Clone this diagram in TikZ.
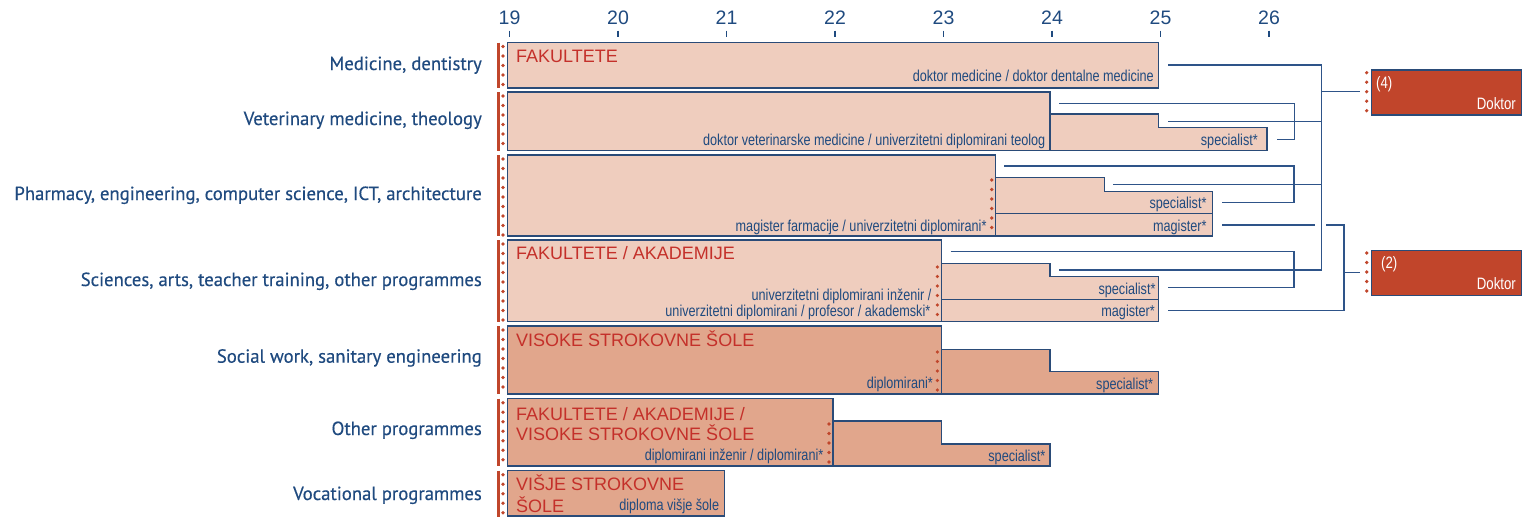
\documentclass[tikz,border=0pt]{standalone}
\usepackage{fontspec}
\setmainfont{Liberation Sans}
\newfontfamily\narrowf[FakeStretch=0.8]{Liberation Sans}
\newfontfamily\labf[FakeStretch=0.985,FakeBold=0.4]{PT Sans}
\definecolor{navy}{HTML}{1F4A7F}
\definecolor{boxline}{HTML}{2A4B78}
\definecolor{lightfill}{HTML}{EFCDBE}
\definecolor{darkfill}{HTML}{E1A68C}
\definecolor{redtext}{HTML}{C4302A}
\definecolor{redbar}{HTML}{C0462B}
\definecolor{doktorfill}{HTML}{C1452B}
\definecolor{conn}{HTML}{2E5489}
\tikzset{
  lbox/.style={draw=boxline, line width=1.3pt, fill=lightfill},
  dbox/.style={draw=boxline, line width=1.3pt, fill=darkfill},
  redbarline/.style={draw=redbar, line width=3pt},
  reddots/.style={draw=redbar, line width=3.6pt, line cap=round, dash pattern=on 0pt off 9.5pt},
  rowlabel/.style={anchor=base east, inner sep=0pt, text=navy, font=\labf\fontsize{19}{22}\selectfont},
  titletext/.style={anchor=base west, inner sep=0pt, text=redtext, font=\fontsize{18}{20}\selectfont},
  degree/.style={anchor=base east, inner sep=0pt, text=navy, font=\narrowf\fontsize{15.8}{17}\selectfont},
  yearlbl/.style={anchor=base, inner sep=0pt, text=navy, font=\fontsize{19.5}{20}\selectfont},
  ticklin/.style={draw=navy, line width=1.2pt},
  connector/.style={draw=conn, line width=1.3pt},
  doktorbox/.style={draw=boxline, line width=1.3pt, fill=doktorfill, anchor=north west, inner sep=0pt, minimum width=149.7pt, minimum height=45pt},
  doktortext/.style={text=white, inner sep=0pt, font=\narrowf\fontsize{16.5}{17}\selectfont}
}
\begin{document}
\begin{tikzpicture}[x=1pt,y=-1pt]
\useasboundingbox (0,0) rectangle (1527,517);

% ---- axis ----
\foreach \yy/\xx in {19/509.5,20/618,21/726.5,22/835,23/943.5,24/1052,25/1160.5,26/1269}{
  \draw[ticklin] (\xx,30.5) -- (\xx,37);
  \node[yearlbl] (yr\yy) at (\xx,24) {\yy};
}

% ---- row labels ----
\node[rowlabel] (l1) at (482,70) {Medicine, dentistry};
\node[rowlabel] (l2) at (482,125) {Veterinary medicine, theology};
\node[rowlabel] (l3) at (482,200) {Pharmacy, engineering, computer science, ICT, architecture};
\node[rowlabel] (l4) at (482,286) {Sciences, arts, teacher training, other programmes};
\node[rowlabel] (l5) at (482,362.7) {Social work, sanitary engineering};
\node[rowlabel] (l6) at (482,435) {Other programmes};
\node[rowlabel] (l7) at (482,500) {Vocational programmes};

% ---- left red bars and dots ----
\foreach \ta/\tb in {42.5/87.5, 92/150.7, 155/236, 240/321.7, 326/394, 398.7/466, 470.7/517}{
  \draw[redbarline] (498,\ta) -- (498,\tb);
  \draw[reddots] (503,\ta+4) -- (503,\tb);
}

% ---- row 1 ----
\draw[lbox] (507.5,42.5) rectangle (1158.5,88);
\node[titletext] (t1) at (516,62) {FAKULTETE};
\node[degree] (g1) at (1154,81.7) {doktor medicine / doktor dentalne medicine};

% ---- row 2 ----
\draw[lbox] (507.5,92) rectangle (1050,150.7);
\draw[lbox] (1050,114) -- (1158.5,114) -- (1158.5,127.7) -- (1267,127.7) -- (1267,150.7) -- (1050,150.7) -- cycle;
\node[degree] (g2) at (1045.5,145.5) {doktor veterinarske medicine / univerzitetni diplomirani teolog};
\node[degree] (s2) at (1258,145.5) {specialist*};

% ---- row 3 ----
\draw[lbox] (507.5,155) rectangle (995.75,236);
\draw[lbox] (995.75,177.3) -- (1104.25,177.3) -- (1104.25,191.3) -- (1212.75,191.3) -- (1212.75,236) -- (995.75,236) -- cycle;
\draw[draw=boxline, line width=1.3pt] (995.75,213.3) -- (1212.75,213.3);
\draw[reddots] (991.7,180) -- (991.7,236);
\node[degree] (g3) at (986.7,231) {magister farmacije / univerzitetni diplomirani*};
\node[degree] (s3) at (1206.7,208.7) {specialist*};
\node[degree] (m3) at (1206.7,231) {magister*};

% ---- row 4 ----
\draw[lbox] (507.5,240) rectangle (941.5,321.7);
\draw[lbox] (941.5,263.3) -- (1050,263.3) -- (1050,276.7) -- (1158.5,276.7) -- (1158.5,321.7) -- (941.5,321.7) -- cycle;
\draw[draw=boxline, line width=1.3pt] (941.5,299.3) -- (1158.5,299.3);
\draw[reddots] (937.3,267) -- (937.3,322);
\node[titletext] (t4) at (516,259.3) {FAKULTETE / AKADEMIJE};
\node[degree] (g4a) at (931.7,300) {univerzitetni diplomirani inženir /};
\node[degree] (g4b) at (930.5,316.7) {univerzitetni diplomirani / profesor / akademski*};
\node[degree] (s4) at (1155.7,294.3) {specialist*};
\node[degree] (m4) at (1155,316.7) {magister*};

% ---- row 5 ----
\draw[dbox] (507.5,326) rectangle (941.5,394);
\draw[dbox] (941.5,349.3) -- (1050,349.3) -- (1050,371.7) -- (1158.5,371.7) -- (1158.5,394) -- (941.5,394) -- cycle;
\draw[reddots] (937.3,352) -- (937.3,394);
\node[titletext] (t5) at (516,346.7) {VISOKE STROKOVNE ŠOLE};
\node[degree] (g5) at (933,388) {diplomirani*};
\node[degree] (s5) at (1153.3,389) {specialist*};

% ---- row 6 ----
\draw[dbox] (507.5,398.7) rectangle (833,466);
\draw[dbox] (833,421) -- (941.5,421) -- (941.5,444) -- (1050,444) -- (1050,466) -- (833,466) -- cycle;
\draw[reddots] (829,424) -- (829,466);
\node[titletext] (t6a) at (516,420) {FAKULTETE / AKADEMIJE /};
\node[titletext] (t6b) at (516,440) {VISOKE STROKOVNE ŠOLE};
\node[degree] (g6) at (823.5,460.7) {diplomirani inženir / diplomirani*};
\node[degree] (s6) at (1045.5,461.7) {specialist*};

% ---- row 7 ----
\draw[dbox] (507.5,470.7) rectangle (724.5,516);
\node[titletext] (t7a) at (516,490.7) {VIŠJE STROKOVNE};
\node[titletext] (t7b) at (516,512.7) {ŠOLE};
\node[degree] (g7) at (719.3,510) {diploma višje šole};

% ---- Doktor boxes ----
\node[doktorbox] (d4) at (1371,69.3) {};
\node[doktortext, anchor=base west] (d4n) at (1376,88.3) {(4)};
\node[doktortext, anchor=base east] (d4t) at (1516,109.3) {Doktor};
\draw[reddots] (1366.7,72.7) -- (1366.7,114);

\node[doktorbox] (d2) at (1371,250) {};
\node[doktortext, anchor=base west] (d2n) at (1381,268.3) {(2)};
\node[doktortext, anchor=base east] (d2t) at (1516,289.3) {Doktor};
\draw[reddots] (1366.7,253) -- (1366.7,295);

% ---- connector coordinates ----
\coordinate (c1a) at (1168.3,65);
\coordinate (c2a) at (1168.3,121.3);
\coordinate (c3a) at (1113.3,184.3);
\coordinate (c4a) at (1059.3,270);
\coordinate (v4top) at (1321.7,65);
\coordinate (v4bot) at (1321.7,270);
\coordinate (v4br) at (1321.7,91.7);
\coordinate (d4in) at (1360,91.7);

\coordinate (b2t) at (1059.3,103.3);
\coordinate (b2b) at (1276.7,139.3);
\coordinate (b3t) at (1004.3,166);
\coordinate (b3b) at (1222.3,202.3);
\coordinate (b4t) at (950.7,251.7);
\coordinate (b4b) at (1168.3,287.7);

\coordinate (mg3) at (1222.3,225);
\coordinate (mg3gapA) at (1315,225);
\coordinate (mg3gapB) at (1326,225);
\coordinate (mg4) at (1168.3,310.7);
\coordinate (v2br) at (1344,272.3);
\coordinate (d2in) at (1360,272.3);

% ---- connectors to Doktor (4) ----
\draw[connector] (c1a) -- (v4top) -- (v4bot) -- (c4a);
\draw[connector] (c2a) -- (c2a -| v4top);
\draw[connector] (c3a) -- (c3a -| v4top);
\draw[connector] (v4br) -- (d4in);

% ---- brackets ----
\draw[connector] (b2t) -| (1294.3,139.3) -- (b2b);
\draw[connector] (b3t) -| (1294,202.3) -- (b3b);
\draw[connector] (b4t) -| (1294,287.7) -- (b4b);

% ---- connectors to Doktor (2) ----
\draw[connector] (mg3) -- (mg3gapA);
\draw[connector] (mg3gapB) -| (1344,310.7) -- (mg4);
\draw[connector] (v2br) -- (d2in);
\end{tikzpicture}
\end{document}
